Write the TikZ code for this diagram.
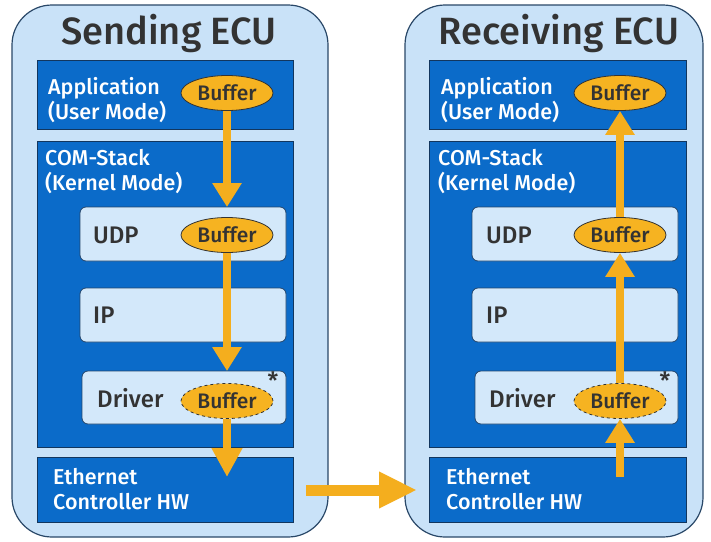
\documentclass[tikz,border=0pt]{standalone}
\usepackage{fontspec}
\setmainfont{Fira Sans}[BoldFont={Fira Sans Medium}]
\usetikzlibrary{shapes.geometric,arrows.meta}
\definecolor{ecufill}{HTML}{C9E2F8}
\definecolor{ecuedge}{HTML}{2A4868}
\definecolor{layerfill}{HTML}{0B6BC9}
\definecolor{layeredge}{HTML}{12365E}
\definecolor{protofill}{HTML}{D3E8FA}
\definecolor{protoedge}{HTML}{23456B}
\definecolor{flow}{HTML}{F4AE1E}
\definecolor{buffill}{HTML}{F6B321}
\definecolor{inktext}{HTML}{333333}
\tikzset{
  ecubox/.style={draw=ecuedge, line width=1.2pt, fill=ecufill, rounded corners=40pt},
  layer/.style={draw=layeredge, line width=0.9pt, fill=layerfill},
  proto/.style={draw=protoedge, line width=0.8pt, fill=protofill, rounded corners=6pt},
  ecutitle/.style={font=\bfseries\fontsize{38}{38}\selectfont, text=inktext, inner sep=0pt},
  wlabel/.style={font=\bfseries\fontsize{21.5}{25}\selectfont, text=white, align=left, anchor=west, inner sep=0pt},
  dlabel/.style={font=\bfseries\fontsize{24}{25}\selectfont, text=inktext, anchor=west, inner sep=0pt},
  buffer/.style={ellipse, draw=inktext, line width=0.8pt, fill=buffill, minimum width=92pt, minimum height=35pt, inner sep=0pt, font=\bfseries\fontsize{21}{21}\selectfont, text=inktext},
  dmabuffer/.style={buffer, dashed},
  star/.style={font=\bfseries\fontsize{24}{24}\selectfont, text=inktext, inner sep=0pt},
  flowarrow/.style={draw=flow, line width=8pt, -{Triangle[width=28pt,length=24pt]}},
  linkarrow/.style={draw=flow, line width=11pt, -{Triangle[width=34pt,length=38pt]}},
}
\begin{document}
\begin{tikzpicture}[x=1pt, y=-1pt]
\useasboundingbox (0,0) rectangle (711,541);
\fill[white] (0,0) rectangle (711,541);

% ---------- Sending ECU ----------
\draw[ecubox] (12,5) rectangle (328,537);
\node[ecutitle] (stitle) at (169,33) {Sending ECU};
\draw[layer] (37,60) rectangle (293,129);
\draw[layer] (37,141) rectangle (293,447);
\draw[layer] (37,457) rectangle (293,522);
\draw[proto] (80,207) rectangle (286,261);
\draw[proto] (80,288) rectangle (286,342);
\draw[proto] (82,371) rectangle (286,424);
\node[wlabel] (sapp) at (48,100) {Application\\(User Mode)};
\node[wlabel] (scom) at (45,172) {COM-Stack\\(Kernel Mode)};
\node[wlabel] (seth) at (53,489) {Ethernet\\Controller HW};
\node[dlabel] (sudpl) at (93,235) {UDP};
\node[dlabel] (sipl) at (93,315) {IP};
\node[dlabel] (sdrvl) at (97,398) {Driver};
\node[buffer] (sbufA) at (227,93) {Buffer};
\node[buffer] (sbufU) at (227,235) {Buffer};
\node[dmabuffer] (sbufD) at (227,401) {Buffer};
\node[star] (sstar) at (273,381) {*};
\coordinate (sudptop) at (227,207);
\coordinate (sdrvtop) at (227,371);
\coordinate (sethin) at (227,477);
\draw[flowarrow] (sbufA.south) -- (sudptop);
\draw[flowarrow] (sbufU.south) -- (sdrvtop);
\draw[flowarrow, -{Triangle[width=29pt,length=29pt]}] (sbufD.south) -- (sethin);

% ---------- Receiving ECU ----------
\draw[ecubox] (405,5) rectangle (703,537);
\node[ecutitle] (rtitle) at (559,33) {Receiving ECU};
\draw[layer] (429,60) rectangle (686,129);
\draw[layer] (429,141) rectangle (686,447);
\draw[layer] (429,457) rectangle (686,522);
\draw[proto] (472,207) rectangle (678,261);
\draw[proto] (472,288) rectangle (678,342);
\draw[proto] (475,371) rectangle (678,424);
\node[wlabel] (rapp) at (441,100) {Application\\(User Mode)};
\node[wlabel] (rcom) at (438,172) {COM-Stack\\(Kernel Mode)};
\node[wlabel] (reth) at (446,489) {Ethernet\\Controller HW};
\node[dlabel] (rudpl) at (486,235) {UDP};
\node[dlabel] (ripl) at (486,315) {IP};
\node[dlabel] (rdrvl) at (489,398) {Driver};
\node[buffer] (rbufA) at (620,93) {Buffer};
\node[buffer] (rbufU) at (620,235) {Buffer};
\node[dmabuffer] (rbufD) at (620,401) {Buffer};
\node[star] (rstar) at (665,381) {*};
\coordinate (rethout) at (620,477);
\draw[flowarrow] (rethout) -- (rbufD.south);
\draw[flowarrow] (rbufD.north) -- (rbufU.south);
\draw[flowarrow] (rbufU.north) -- (rbufA.south);

% ---------- link between the two controllers ----------
\coordinate (linkfrom) at (306,490);
\coordinate (linkto) at (417,490);
\draw[linkarrow] (linkfrom) -- (linkto);
\end{tikzpicture}
\end{document}
